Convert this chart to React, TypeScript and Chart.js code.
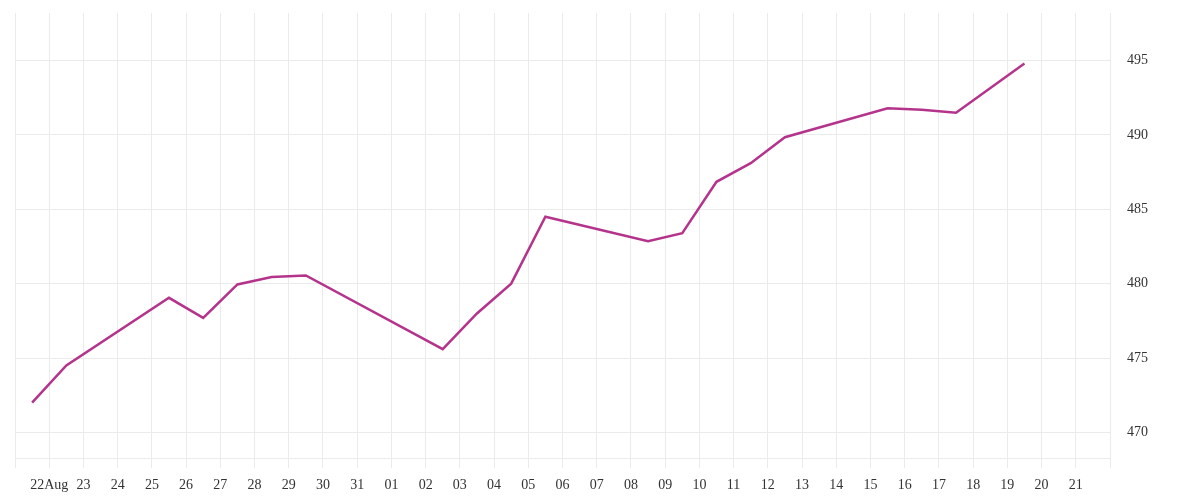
import React, { useEffect, useRef } from "react";
import { Chart, registerables } from "chart.js";

Chart.register(...registerables);

// Observation dates and values
const dates: string[] = [
  "2023-08-21", "2023-08-22", "2023-08-25", "2023-08-26", "2023-08-27",
  "2023-08-28", "2023-08-29", "2023-09-02", "2023-09-03", "2023-09-04",
  "2023-09-05", "2023-09-08", "2023-09-09", "2023-09-10", "2023-09-11",
  "2023-09-12", "2023-09-15", "2023-09-16", "2023-09-17", "2023-09-19",
];
const values: number[] = [
  472.0, 474.5, 479.05, 477.7, 479.95,
  480.45, 480.55, 475.6, 478.0, 480.0,
  484.5, 482.85, 483.4, 486.85, 488.1,
  489.85, 491.8, 491.7, 491.5, 494.8,
];

// Axis start date (day index 0) and tick labels for day indices 0..32
const axisStart = "2023-08-21";
const xTickLabels: string[] = [
  "", "22Aug", "23", "24", "25", "26", "27", "28", "29", "30", "31",
  "01", "02", "03", "04", "05", "06", "07", "08", "09", "10",
  "11", "12", "13", "14", "15", "16", "17", "18", "19", "20", "21", "",
];
const yTicks: number[] = [470, 475, 480, 485, 490, 495];
const yMin = 468.28;
const yMax = 498.2;

const DAY = 86400000;
const dayIndex = (d: string) =>
  (Date.parse(d + "T00:00:00Z") - Date.parse(axisStart + "T00:00:00Z")) / DAY;

const GRID = "#ebebeb";
const TEXT = "#333333";
const FONT = { family: "'Liberation Serif', serif", size: 14 };

export default function App() {
  const ref = useRef<HTMLCanvasElement | null>(null);

  useEffect(() => {
    if (!ref.current) return;
    const points = dates.map((d, i) => ({ x: dayIndex(d) + 0.5, y: values[i] }));
    const chart = new Chart(ref.current, {
      type: "line",
      data: {
        datasets: [
          {
            data: points,
            borderColor: "#b4348c",
            borderWidth: 2.5,
            pointRadius: 0,
            tension: 0,
            fill: false,
          },
        ],
      },
      options: {
        animation: false,
        responsive: true,
        maintainAspectRatio: false,
        layout: { padding: { left: 15, top: 13, right: 0, bottom: 0 } },
        plugins: { legend: { display: false }, tooltip: { enabled: false } },
        scales: {
          x: {
            type: "linear",
            min: 0,
            max: xTickLabels.length - 1,
            afterBuildTicks: (scale: any) => {
              scale.ticks = xTickLabels.map((_, i) => ({ value: i }));
            },
            afterFit: (scale: any) => {
              scale.height = 42;
              scale.paddingLeft = 0;
              scale.paddingRight = 0;
            },
            grid: { color: GRID, drawTicks: true, tickLength: 10, lineWidth: 1 },
            border: { display: true, color: GRID },
            ticks: {
              autoSkip: false,
              maxRotation: 0,
              padding: 9,
              color: TEXT,
              font: FONT,
              callback: (v: any) => xTickLabels[Math.round(Number(v))] ?? "",
            },
          },
          y: {
            type: "linear",
            position: "right",
            min: yMin,
            max: yMax,
            afterBuildTicks: (scale: any) => {
              scale.ticks = yTicks.map((v) => ({ value: v }));
            },
            afterFit: (scale: any) => {
              scale.width = 90;
              scale.paddingTop = 0;
              scale.paddingBottom = 0;
            },
            grid: { color: GRID, drawTicks: false, lineWidth: 1 },
            border: { display: true, color: GRID },
            ticks: {
              padding: 17,
              color: TEXT,
              font: FONT,
              callback: (v: any) => String(v),
            },
          },
        },
      },
    });
    return () => chart.destroy();
  }, []);

  return (
    <div style={{ position: "fixed", left: 0, top: 0, width: 1200, height: 500, background: "#fff" }}>
      <canvas ref={ref} />
    </div>
  );
}
